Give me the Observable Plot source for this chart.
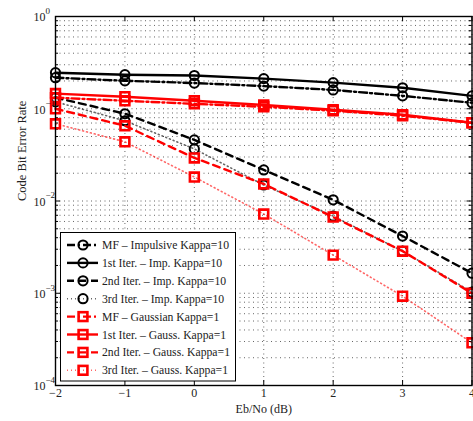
<!DOCTYPE html>
<html><head><meta charset="utf-8">
<script src="https://cdn.jsdelivr.net/npm/d3@7"></script>
<script src="https://cdn.jsdelivr.net/npm/@observablehq/plot@0.6"></script>
<style>
body{margin:0;background:#fff;}
#wrap{position:relative;width:473px;height:421px;overflow:hidden;}
#wrap, #wrap svg, #wrap text{font-family:"Liberation Serif","Times New Roman",Times,"DejaVu Serif",serif !important;}
#legend{position:absolute;left:60px;top:232px;}
</style></head><body><div id="wrap"></div>
<script>
// ---- data ----
const ebno = [-2, -1, 0, 1, 2, 3, 4];
const mfImp    = [0.217, 0.201, 0.190, 0.176, 0.160, 0.138, 0.116];
const it1Imp   = [0.246, 0.234, 0.229, 0.212, 0.192, 0.169, 0.138];
const it2Imp   = [0.132, 0.0883, 0.0460, 0.0217, 0.0103, 0.00417, 0.00165];
const it3Imp   = [0.119, 0.0741, 0.0367, 0.0149, 0.00687, 0.00286, 0.00103];
const mfGauss  = [0.132, 0.122, 0.113, 0.105, 0.0953, 0.0841, 0.0705];
const it1Gauss = [0.146, 0.135, 0.122, 0.110, 0.0975, 0.0861, 0.0705];
const it2Gauss = [0.100, 0.0654, 0.0293, 0.0153, 0.0067, 0.00286, 0.00100];
const it3Gauss = [0.0687, 0.0438, 0.0182, 0.00722, 0.00259, 0.00093, 0.00029];

const seriesNames = [
  "MF \u2013 Impulsive Kappa=10",
  "1st Iter. \u2013 Imp. Kappa=10",
  "2nd Iter. \u2013 Imp. Kappa=10",
  "3rd Iter. \u2013 Imp. Kappa=10",
  "MF \u2013 Gaussian Kappa=1",
  "1st Iter. \u2013 Gauss. Kappa=1",
  "2nd Iter. \u2013 Gauss. Kappa=1",
  "3rd Iter. \u2013 Gauss. Kappa=1"
];
const seriesValues = [mfImp, it1Imp, it2Imp, it3Imp, mfGauss, it1Gauss, it2Gauss, it3Gauss];

const xTicks = [-2, -1, 0, 1, 2, 3, 4];
const xTickLabels = ["\u22122", "\u22121", "0", "1", "2", "3", "4"];
const yDecades = [1e-4, 1e-3, 1e-2, 1e-1, 1];
const yExponents = ["\u22124", "\u22123", "\u22122", "\u22121", "0"];
const yMinor = [-4, -3, -2, -1].flatMap(k => [2,3,4,5,6,7,8,9].map(m => m * Math.pow(10, k)));

// ---- styles ----
const FONT = '"Liberation Serif","Times New Roman",Times,"DejaVu Serif",serif';
const dashFor = {dashdot: "8,3,2,3", solid: null, dashed: "7,5", dotted: "1,3"};
const styles = [
  {color: "black", dash: "dashdot", sym: "circle"},
  {color: "black", dash: "solid", sym: "circle"},
  {color: "black", dash: "dashed", sym: "circle"},
  {color: "black", dash: "dotted", sym: "circle"},
  {color: "#ff0000", dash: "dashdot", sym: "square"},
  {color: "#ff0000", dash: "solid", sym: "square"},
  {color: "#ff0000", dash: "dashed", sym: "square"},
  {color: "#ff0000", dash: "dotted", sym: "square"}
];

const W = 473, H = 421, mL = 55, mR = 1.5, mT = 16, mB = 36;
const pw = W - mL - mR, ph = H - mT - mB;

const seriesMarks = seriesNames.flatMap((name, si) => {
  const st = styles[si];
  const rows = ebno.map((x, i) => ({x, y: seriesValues[si][i]}));
  const dotted = st.dash === "dotted";
  return [
    Plot.line(rows, {x: "x", y: "y", stroke: st.color, strokeWidth: dotted ? 1.6 : 2.4,
      strokeDasharray: dashFor[st.dash], strokeOpacity: dotted ? 0.6 : 1}),
    Plot.dot(rows, {x: "x", y: "y", symbol: st.sym, r: st.sym === "circle" ? 4.6 : 5,
      stroke: st.color, strokeWidth: st.sym === "circle" ? 2 : 2.6, fill: "none"})
  ];
});

const chart = Plot.plot({
  width: W, height: H,
  marginLeft: mL, marginRight: mR, marginTop: mT, marginBottom: mB,
  style: {fontFamily: FONT, fontSize: "12px", background: "white", overflow: "hidden"},
  x: {domain: [-2, 4], axis: null},
  y: {type: "log", domain: [1e-4, 1], axis: null},
  marks: [
    // grid
    Plot.ruleY(yMinor.concat(yDecades), {y: d => d, stroke: "#666", strokeWidth: 1, strokeDasharray: "1,3.5"}),
    Plot.ruleX(xTicks, {x: d => d, stroke: "#666", strokeWidth: 1, strokeDasharray: "1,3.5"}),
    // inward ticks
    Plot.tickY(yDecades, {y: d => d, insetRight: pw - 5, stroke: "black"}),
    Plot.tickY(yMinor, {y: d => d, insetRight: pw - 3, stroke: "black"}),
    Plot.tickY(yDecades, {y: d => d, insetLeft: pw - 5, stroke: "black"}),
    Plot.tickY(yMinor, {y: d => d, insetLeft: pw - 3, stroke: "black"}),
    Plot.tickX(xTicks, {x: d => d, insetTop: ph - 5, stroke: "black"}),
    Plot.tickX(xTicks, {x: d => d, insetBottom: ph - 5, stroke: "black"}),
    ...seriesMarks,
    Plot.frame({stroke: "black", strokeWidth: 1.4}),
    // y tick labels
    Plot.text(yDecades, {y: d => d, frameAnchor: "left", dx: -22, dy: 1, textAnchor: "start",
      text: () => "10", fontSize: 12, fill: "#222"}),
    Plot.text(yDecades, {y: d => d, frameAnchor: "left", dx: -10, dy: -5.5, textAnchor: "start",
      text: (d, i) => yExponents[i], fontSize: 9, fill: "#222"}),
    // x tick labels
    Plot.text(xTicks, {x: d => d, frameAnchor: "bottom", dy: 11.5,
      text: (d, i) => xTickLabels[i], fontSize: 12, fill: "#222"}),
    // axis titles
    Plot.text(["Eb/No (dB)"], {frameAnchor: "bottom", dy: 27, text: d => d, fontSize: 12, fill: "#222"}),
    Plot.text(["Code Bit Error Rate"], {frameAnchor: "left", dx: -34, rotate: -90, text: d => d, fontSize: 12.5, fill: "#222"})
  ]
});

const wrap = document.getElementById("wrap");
wrap.appendChild(chart);

// ---- legend ----
const lg = d3.create("svg").attr("id", "legend").attr("width", 176).attr("height", 150)
  .style("font-family", FONT);
lg.append("rect").attr("x", 0.5).attr("y", 0.5).attr("width", 175).attr("height", 148.5)
  .attr("fill", "white").attr("stroke", "black").attr("stroke-width", 1);
seriesNames.forEach((name, i) => {
  const st = styles[i];
  const y = 13 + i * 17.9;
  const dotted = st.dash === "dotted";
  lg.append("line").attr("x1", 7).attr("x2", 38).attr("y1", y).attr("y2", y)
    .attr("stroke", st.color).attr("stroke-width", dotted ? 1.6 : 2.4)
    .attr("stroke-opacity", dotted ? 0.6 : 1)
    .attr("stroke-dasharray", dashFor[st.dash]);
  if (st.sym === "circle") {
    lg.append("circle").attr("cx", 23).attr("cy", y).attr("r", 4.6)
      .attr("fill", "none").attr("stroke", st.color).attr("stroke-width", 2);
  } else {
    lg.append("rect").attr("x", 23 - 4.4).attr("y", y - 4.4).attr("width", 8.8).attr("height", 8.8)
      .attr("fill", "none").attr("stroke", st.color).attr("stroke-width", 2.6);
  }
  lg.append("text").attr("x", 42).attr("y", y).attr("dy", "0.35em").attr("font-size", 11.7)
    .attr("fill", "#222").text(name);
});
wrap.appendChild(lg.node());
</script>
</body></html>
